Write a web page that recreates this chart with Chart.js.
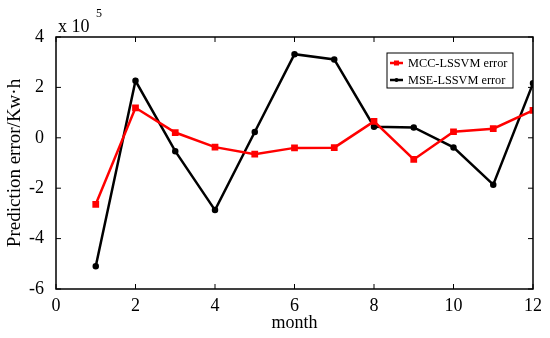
<!DOCTYPE html>
<html>
<head>
<meta charset="utf-8">
<script src="https://cdn.jsdelivr.net/npm/chart.js@4"></script>
<style>
  html, body { margin: 0; padding: 0; background: #fff; }
  #wrap { width: 550px; height: 338px; }
</style>
</head>
<body>
<div id="wrap"><canvas id="c" width="550" height="338"></canvas></div>
<script>
// datos (unidades de 10^5)
const months = [1, 2, 3, 4, 5, 6, 7, 8, 9, 10, 11, 12];
const mccError = [-2.64, 1.19, 0.21, -0.37, -0.65, -0.40, -0.39, 0.65, -0.86, 0.24, 0.36, 1.09];
const mseError = [-5.10, 2.26, -0.53, -2.87, 0.23, 3.32, 3.11, 0.44, 0.41, -0.38, -1.86, 2.16];
const xTicks = [0, 2, 4, 6, 8, 10, 12];
const yTicks = [-6, -4, -2, 0, 2, 4];
const seriesNames = ['MCC-LSSVM error', 'MSE-LSSVM error'];

const serif = '"Liberation Serif", "DejaVu Serif", serif';

function toPoints(vals) {
    return months.map((m, i) => ({ x: m, y: vals[i] }));
}

// marco, ticks hacia dentro, leyenda y "x 10^5"
const framePlugin = {
    id: 'frame',
    afterDraw(chart) {
        const { ctx, chartArea: a, scales } = chart;
        ctx.save();
        ctx.strokeStyle = '#000';
        ctx.lineWidth = 1.5;
        ctx.strokeRect(a.left, a.top, a.right - a.left, a.bottom - a.top);
        ctx.lineWidth = 1;
        const tl = 5;
        ctx.beginPath();
        xTicks.forEach(v => {
            const px = scales.x.getPixelForValue(v);
            ctx.moveTo(px, a.bottom); ctx.lineTo(px, a.bottom - tl);
            ctx.moveTo(px, a.top); ctx.lineTo(px, a.top + tl);
        });
        yTicks.forEach(v => {
            const py = scales.y.getPixelForValue(v);
            ctx.moveTo(a.left, py); ctx.lineTo(a.left + tl, py);
            ctx.moveTo(a.right, py); ctx.lineTo(a.right - tl, py);
        });
        ctx.stroke();

        // x 10^5
        ctx.fillStyle = '#000';
        ctx.textBaseline = 'alphabetic';
        ctx.textAlign = 'left';
        ctx.font = '18px ' + serif;
        ctx.fillText('x 10', a.left + 2, a.top - 5);
        ctx.font = '12px ' + serif;
        ctx.fillText('5', a.left + 40, a.top - 20);

        // leyenda
        const lx = 387, ly = 53, lw = 126, lh = 35;
        ctx.fillStyle = '#fff';
        ctx.fillRect(lx, ly, lw, lh);
        ctx.strokeStyle = '#000';
        ctx.lineWidth = 1;
        ctx.strokeRect(lx, ly, lw, lh);
        chart.data.datasets.forEach((ds, i) => {
            const cy = ly + 10 + i * 17;
            ctx.strokeStyle = ds.borderColor;
            ctx.lineWidth = 2.5;
            ctx.beginPath();
            ctx.moveTo(lx + 3, cy); ctx.lineTo(lx + 16, cy);
            ctx.stroke();
            ctx.fillStyle = ds.borderColor;
            if (i === 0) ctx.fillRect(lx + 7, cy - 2.5, 5, 5);
            else { ctx.beginPath(); ctx.arc(lx + 9.5, cy, 2, 0, Math.PI * 2); ctx.fill(); }
            ctx.fillStyle = '#000';
            ctx.font = '12.3px ' + serif;
            ctx.textBaseline = 'middle';
            ctx.fillText(ds.label, lx + 21, cy + 1);
        });
        ctx.restore();
    }
};

new Chart(document.getElementById('c'), {
    type: 'line',
    data: {
        datasets: [
            {
                label: seriesNames[0], data: toPoints(mccError),
                borderColor: '#ff0000', backgroundColor: '#ff0000',
                borderWidth: 2.5, pointStyle: 'rect', pointRadius: 3, pointHoverRadius: 3,
                tension: 0
            },
            {
                label: seriesNames[1], data: toPoints(mseError),
                borderColor: '#000000', backgroundColor: '#000000',
                borderWidth: 2.5, pointStyle: 'circle', pointRadius: 2, pointHoverRadius: 2,
                tension: 0
            }
        ]
    },
    options: {
        responsive: false,
        animation: false,
        layout: { padding: { top: 37, right: 17, left: 0, bottom: 0 } },
        plugins: { legend: { display: false }, tooltip: { enabled: false } },
        scales: {
            x: {
                type: 'linear', min: 0, max: 12,
                afterFit: s => { s.height = 49; },
                afterBuildTicks: s => { s.ticks = xTicks.map(v => ({ value: v })); },
                grid: { display: false, drawTicks: false },
                border: { display: false },
                ticks: { color: '#000', padding: 6, maxRotation: 0, font: { family: serif, size: 18 } },
                title: { display: true, text: 'month', color: '#000', padding: { top: -4 }, font: { family: serif, size: 18 } }
            },
            y: {
                type: 'linear', min: -6, max: 4,
                afterFit: s => { s.width = 56; },
                afterBuildTicks: s => { s.ticks = yTicks.map(v => ({ value: v })); },
                grid: { display: false, drawTicks: false },
                border: { display: false },
                ticks: { color: '#000', padding: 12, font: { family: serif, size: 18 } },
                title: { display: true, text: 'Prediction error/Kw·h', color: '#000', padding: { bottom: 0 }, font: { family: serif, size: 19 } }
            }
        }
    },
    plugins: [framePlugin]
});
</script>
</body>
</html>
